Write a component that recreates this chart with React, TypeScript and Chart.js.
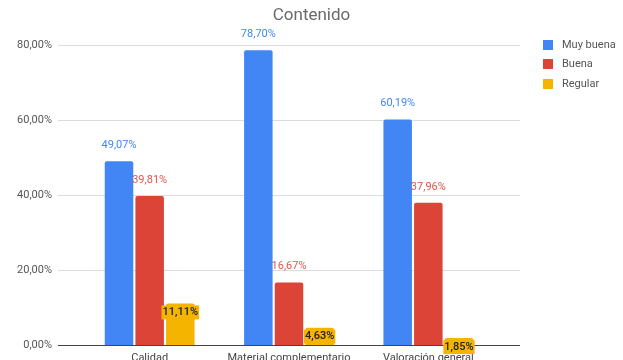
import React, { useEffect, useRef } from "react";
import { Chart, registerables } from "chart.js";

Chart.register(...registerables);

const categories = ["Calidad", "Material complementario", "Valoración general"];
const seriesNames = ["Muy buena", "Buena", "Regular"];
const muyBuena = [49.07, 78.7, 60.19];
const buena = [39.81, 16.67, 37.96];
const regular = [11.11, 4.63, 1.85];
const yTicks = [0, 20, 40, 60, 80];
const colors = ["#4285F4", "#DB4437", "#F4B400"];
const labelColors = ["#4285F4", "#E0554B", "#222222"];

const fmt = (v: number) => v.toFixed(2).replace(".", ",") + "%";
const FONT = "Roboto, 'Liberation Sans', Arial, sans-serif";

const decorPlugin = {
  id: "decor",
  beforeDatasetsDraw(chart: any) {
    const { ctx } = chart;
    const y = chart.scales.y;
    const left = 58;
    const right = 520;
    ctx.save();
    yTicks.forEach((t) => {
      const py = Math.round(y.getPixelForValue(t)) + 0.5;
      ctx.strokeStyle = t === 0 ? "#444444" : "#dcdcdc";
      ctx.lineWidth = 1;
      ctx.beginPath();
      ctx.moveTo(left, py);
      ctx.lineTo(right, py);
      ctx.stroke();
    });
    ctx.restore();
  },
  afterDatasetsDraw(chart: any) {
    const { ctx } = chart;
    ctx.save();
    ctx.font = `11px ${FONT}`;
    ctx.textAlign = "center";
    ctx.textBaseline = "middle";
    chart.data.datasets.forEach((ds: any, di: number) => {
      const meta = chart.getDatasetMeta(di);
      meta.data.forEach((el: any, i: number) => {
        const txt = fmt(ds.data[i]);
        if (di === 2) {
          const ty = el.y + 9;
          ctx.font = `500 11px ${FONT}`;
          const w = ctx.measureText(txt).width + 2;
          ctx.fillStyle = colors[2];
          ctx.fillRect(el.x - w / 2, ty - 7, w, 14);
          ctx.fillStyle = labelColors[2];
          ctx.fillText(txt, el.x, ty);
          ctx.font = `11px ${FONT}`;
        } else {
          ctx.fillStyle = labelColors[di];
          ctx.fillText(txt, el.x, el.y - 16);
        }
      });
    });
    // legend
    const lx = 543;
    const ly = [45, 64, 84];
    ctx.textAlign = "left";
    chart.data.datasets.forEach((ds: any, di: number) => {
      ctx.fillStyle = colors[di];
      ctx.fillRect(lx, ly[di] - 5, 10, 10);
      ctx.fillStyle = "#555555";
      ctx.fillText(ds.label, lx + 19, ly[di]);
    });
    ctx.restore();
  },
};

export default function App() {
  const ref = useRef<HTMLCanvasElement>(null);
  useEffect(() => {
    const chart = new Chart(ref.current as HTMLCanvasElement, {
      type: "bar",
      data: {
        labels: categories,
        datasets: [muyBuena, buena, regular].map((d, i) => ({
          label: seriesNames[i],
          data: d,
          backgroundColor: colors[i],
          borderRadius: 2,
          borderSkipped: "bottom",
          barPercentage: 0.93,
          categoryPercentage: 0.66,
        })),
      },
      options: {
        animation: false,
        responsive: false,
        maintainAspectRatio: false,
        layout: { padding: 0 },
        plugins: {
          legend: { display: false },
          tooltip: { enabled: false },
          title: {
            display: true,
            text: "Contenido",
            color: "#6a6a6a",
            font: { family: FONT, size: 17, weight: "normal" },
            padding: { top: 6, bottom: 19 },
          },
        },
        scales: {
          x: {
            grid: { display: false, drawTicks: false },
            border: { display: false },
            afterFit: (s: any) => {
              s.height = 15;
            },
            ticks: {
              color: "#444444",
              font: { family: FONT, size: 11, lineHeight: 1.2 },
              padding: 7,
              maxRotation: 0,
              minRotation: 0,
              autoSkip: false,
            },
          },
          y: {
            min: 0,
            max: 80,
            afterFit: (s: any) => {
              s.width = 80;
            },
            grid: { display: false, drawTicks: true, tickLength: 28 },
            border: { display: false },
            ticks: {
              stepSize: 20,
              padding: 0,
              color: "#555555",
              font: { family: FONT, size: 11 },
              callback: (v: any) => fmt(Number(v)),
            },
          },
          yr: {
            type: "linear",
            position: "right",
            display: true,
            afterFit: (s: any) => {
              s.width = 125;
            },
            grid: { display: false, drawTicks: false },
            border: { display: false },
            ticks: { display: false, padding: 0 },
          },
        },
      },
      plugins: [decorPlugin],
    });
    return () => chart.destroy();
  }, []);
  return (
    <div style={{ position: "fixed", left: 0, top: 0, width: 623, height: 360, background: "#fff" }}>
      <canvas ref={ref} width={623} height={360} style={{ display: "block" }} />
    </div>
  );
}
